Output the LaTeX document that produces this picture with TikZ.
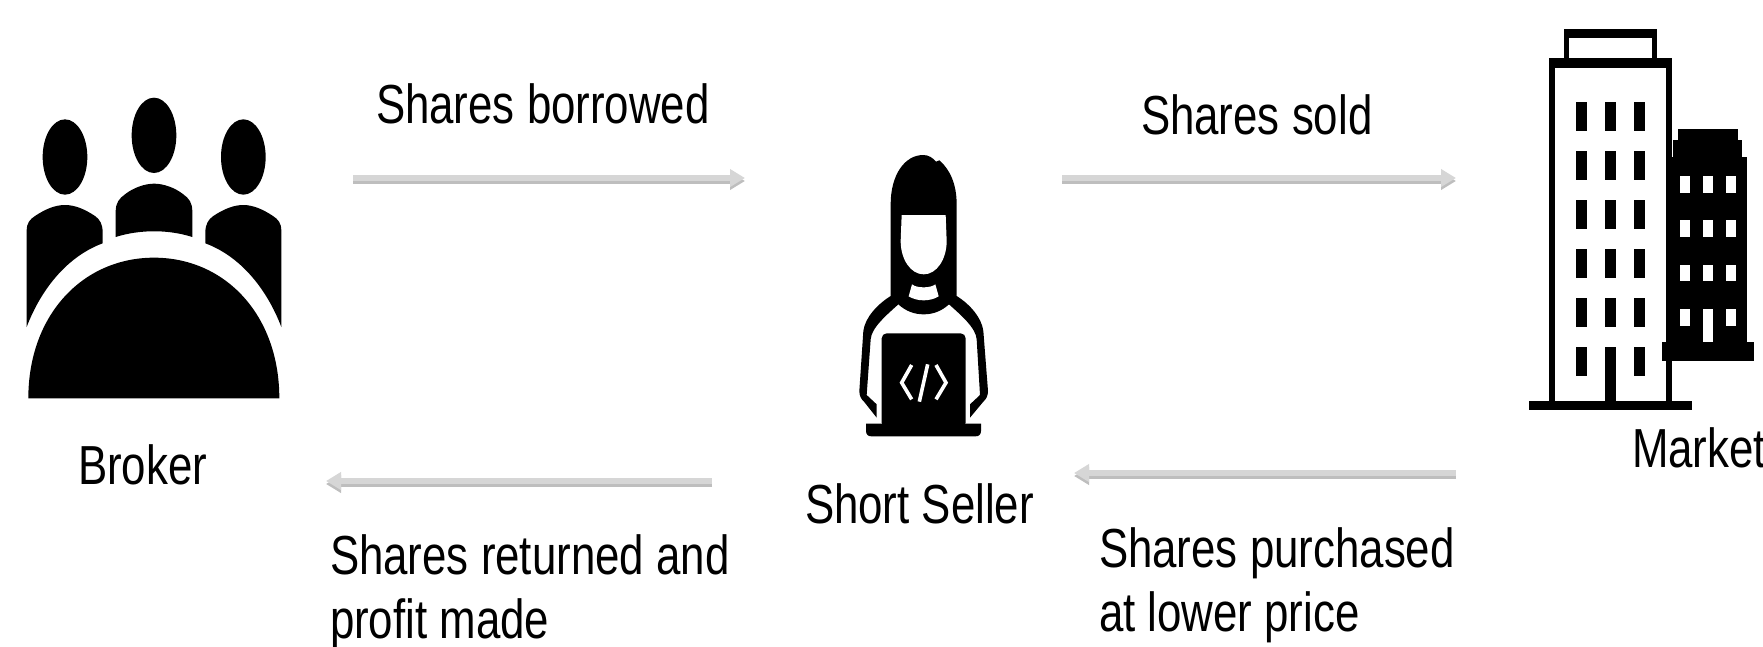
\documentclass[tikz,border=0pt]{standalone}
\usepackage{fontspec}
\setmainfont[FakeStretch=0.797]{Liberation Sans}
\usetikzlibrary{arrows.meta}
\definecolor{arrowgray}{HTML}{D6D6D6}
\definecolor{shadowgray}{HTML}{BEBEBE}
\tikzset{
  label text/.style={anchor=base west,inner sep=0pt,outer sep=0pt,text=black,font=\fontsize{55}{62}\selectfont},
  flow/.style={draw=arrowgray,line width=6pt,-{Triangle[length=15pt,width=17pt]},
    preaction={draw=shadowgray,line width=6pt,transform canvas={yshift=-3pt}}},
  icon/.style={x=.33333pt,y=-.33333pt},
  ink/.style={fill=black,draw=none},
  paper/.style={fill=white,draw=none}
}
\begin{document}
\begin{tikzpicture}[x=1pt,y=-1pt]
\useasboundingbox (0,0) rectangle (1763,646);
\clip (0,0) rectangle (1763,646);
% Broker icon
\begin{scope}[icon,shift={(0pt,-81pt)}]
  \fill[ink] (195,228) ellipse [x radius=67,y radius=113];
  \fill[ink] (462,163) ellipse [x radius=67,y radius=113];
  \fill[ink] (730,228) ellipse [x radius=67,y radius=113];
  \fill[ink] (85,952) .. controls (85,700) and (250,530) .. (462,530)
     .. controls (674,530) and (838,700) .. (838,952) -- cycle;
  \fill[ink] (80,738) -- (80,450) .. controls (80,425) and (90,415) .. (105,405)
     .. controls (135,385) and (165,372) .. (195,372)
     .. controls (225,372) and (255,385) .. (285,405)
     .. controls (300,415) and (308,430) .. (308,455) -- (308,487)
     .. controls (205,525) and (125,620) .. (80,738) -- cycle;
  \fill[ink] (844,738) -- (844,450) .. controls (844,425) and (834,415) .. (819,405)
     .. controls (789,385) and (759,372) .. (730,372)
     .. controls (700,372) and (670,385) .. (640,405)
     .. controls (625,415) and (616,430) .. (616,455) -- (616,487)
     .. controls (719,525) and (799,620) .. (844,738) -- cycle;
  \fill[ink] (347,468) -- (347,392) .. controls (347,365) and (358,352) .. (375,340)
     .. controls (400,320) and (435,308) .. (462,308)
     .. controls (490,308) and (525,320) .. (550,340)
     .. controls (567,352) and (577,365) .. (577,392) -- (577,468)
     .. controls (505,445) and (420,445) .. (347,468) -- cycle;
\end{scope}
% Short seller icon
\begin{scope}[icon,shift={(830pt,-141pt)}]
  \fill[ink] (182,465) -- (182,190) .. controls (182,100) and (225,42) .. (280,42)
     .. controls (295,42) and (308,50) .. (318,62)
     .. controls (322,60) and (324,58) .. (328,58)
     .. controls (360,85) and (380,130) .. (380,190) -- (380,465)
     .. controls (420,490) and (455,530) .. (460,570)
     -- (474,750) .. controls (474,765) and (468,775) .. (460,782) -- (420,830) -- (420,790) -- (450,762)
     -- (440,595) .. controls (438,560) and (390,520) .. (357,490)
     .. controls (335,510) and (310,520) .. (281,520)
     .. controls (252,520) and (227,510) .. (205,490)
     .. controls (172,520) and (124,560) .. (122,595)
     -- (110,762) -- (140,790) -- (140,830) -- (102,782)
     .. controls (94,775) and (88,765) .. (88,750)
     -- (100,570) .. controls (105,530) and (142,490) .. (182,465) -- cycle;
  \fill[paper] (215,222) -- (347,222) -- (350,300)
     .. controls (350,355) and (320,400) .. (281,400)
     .. controls (242,400) and (212,355) .. (212,300) -- cycle;
  \fill[paper] (246,430) .. controls (260,442) and (302,442) .. (316,430)
     -- (326,466) .. controls (300,482) and (262,482) .. (236,466) -- cycle;
  \fill[ink,rounded corners=5pt] (155,860) -- (155,577) -- (407,577) -- (407,860) -- cycle;
  \fill[ink] (108,848) -- (453,848) -- (453,870) .. controls (453,880) and (447,886) .. (437,886)
     -- (124,886) .. controls (114,886) and (108,880) .. (108,870) -- cycle;
  \draw[white,line width=3.6pt] (245,672) -- (215,725) -- (245,775);
  \draw[white,line width=3.6pt] (318,672) -- (348,725) -- (318,775);
  \draw[white,line width=3.6pt] (293,670) -- (268,782);
\end{scope}
% Market icon
\begin{scope}[icon,shift={(1510pt,-11pt)}]
  \fill[ink] (162,53) rectangle (441,150);
  \fill[paper] (178,82) rectangle (425,142);
  \fill[ink] (118,142) rectangle (485,1180);
  \fill[paper] (135,172) rectangle (468,1170);
  \fill[ink] (57,1170) rectangle (545,1198);
  \foreach \wx in {197,284,371}
    \foreach \wy in {273,420,567,714,861,1008}
      \fill[ink] (\wx,\wy) rectangle +(35,88);
  \fill[ink] (284,1008) rectangle (319,1170);
  \fill[ink] (470,438) rectangle (712,1000);
  \fill[ink] (490,388) rectangle (697,440);
  \fill[ink] (505,355) rectangle (683,390);
  \fill[ink] (456,993) rectangle (732,1050);
  \foreach \wx in {510,579,648}
    \foreach \wy in {496,628,761,894}
      \fill[paper] (\wx,\wy) rectangle +(30,50);
  \fill[paper] (579,930) rectangle (609,993);
\end{scope}
% Connector ends
\coordinate (bt) at (353,178);
\coordinate (st) at (745,178);
\coordinate (sr) at (1062,178);
\coordinate (mt) at (1456,178);
\coordinate (mb) at (1456,473);
\coordinate (sb) at (1074,473);
\coordinate (sl) at (712,481);
\coordinate (bb) at (326,481);
\draw[flow] (bt) -- (st);
\draw[flow] (sr) -- (mt);
\draw[flow] (mb) -- (sb);
\draw[flow] (sl) -- (bb);
% Labels
\node[label text] (borrowed) at (376,123) {Shares borrowed};
\node[label text] (sold) at (1141,134) {Shares sold};
\node[label text] (broker) at (78,484) {Broker};
\node[label text] (seller) at (805,523) {Short Seller};
\node[label text] (market) at (1632,467) {Market};
\node[label text] (returned1) at (330,574) {Shares returned and};
\node[label text] (returned2) at (330,638) {profit made};
\node[label text] (purchased1) at (1099,567) {Shares purchased};
\node[label text] (purchased2) at (1099,631) {at lower price};
\end{tikzpicture}
\end{document}
